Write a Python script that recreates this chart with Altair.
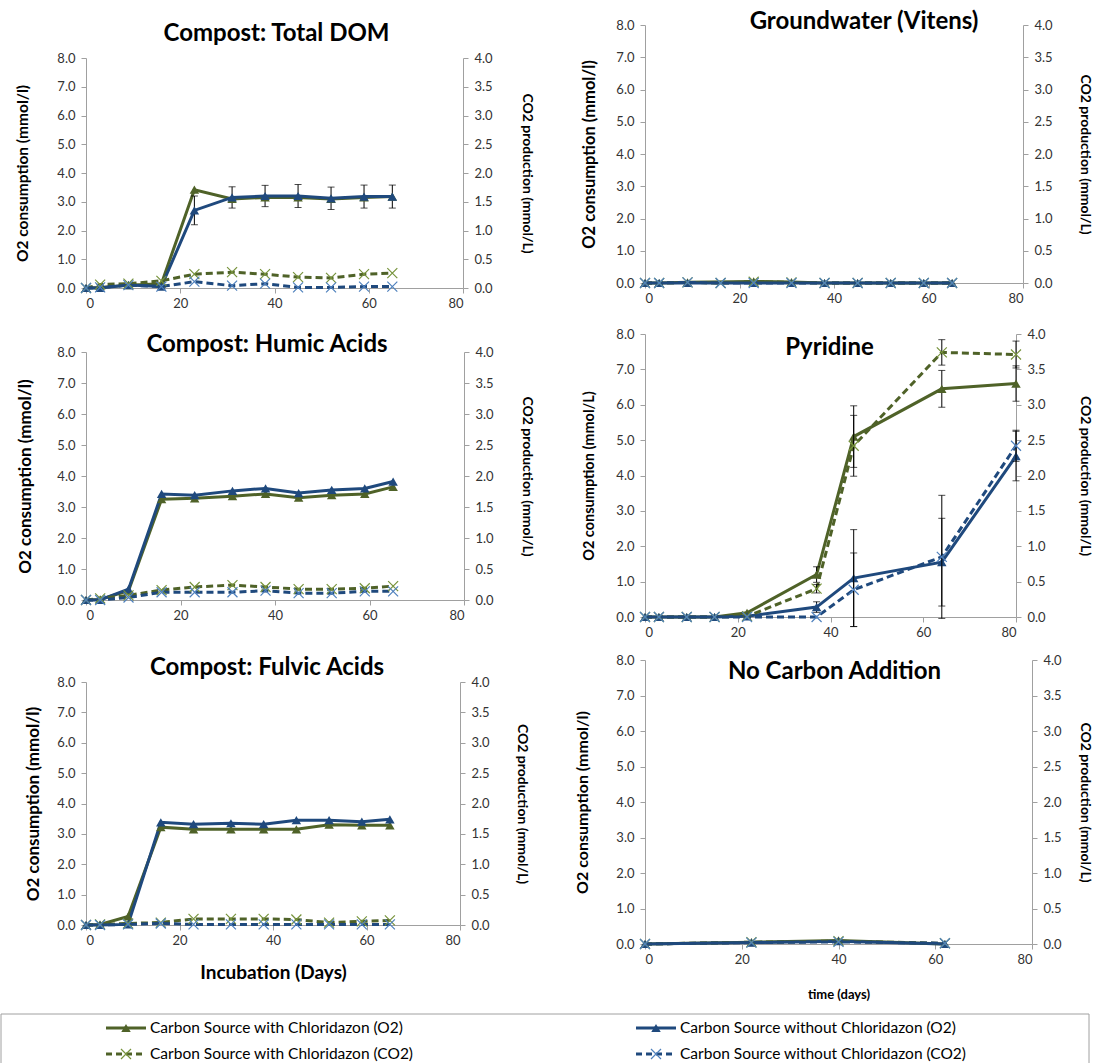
import altair as alt
import pandas as pd

# ---------------- data ----------------
S_W_O2 = "Carbon Source with Chloridazon (O2)"
S_WO_O2 = "Carbon Source without Chloridazon (O2)"
S_W_CO2 = "Carbon Source with Chloridazon (CO2)"
S_WO_CO2 = "Carbon Source without Chloridazon (CO2)"
SERIES = [S_W_O2, S_WO_O2, S_W_CO2, S_WO_CO2]

GREEN = "#4F6228"
BLUE = "#1F497D"
GREEN_X = "#77933C"
BLUE_X = "#4F81BD"

compost_days = [0, 3, 9, 16, 23, 31, 38, 45, 52, 59, 65]

# Compost: Total DOM  (O2 in mmol/l, CO2 in mmol/L on right axis)
dom_w_o2 = [0.0, 0.02, 0.1, 0.15, 3.42, 3.1, 3.15, 3.15, 3.1, 3.15, 3.18]
dom_wo_o2 = [0.0, 0.0, 0.1, 0.05, 2.7, 3.15, 3.2, 3.2, 3.12, 3.18, 3.18]
dom_wo_o2_err = [0, 0, 0, 0, 0.5, 0.37, 0.37, 0.4, 0.39, 0.4, 0.4]
dom_w_co2 = [0.0, 0.06, 0.075, 0.125, 0.24, 0.275, 0.24, 0.19, 0.175, 0.24, 0.26]
dom_wo_co2 = [0.0, 0.01, 0.05, 0.025, 0.11, 0.04, 0.075, 0.01, 0.01, 0.025, 0.025]

# Groundwater (Vitens)
gw_days_o2 = [0, 3, 9, 23, 31, 38, 45, 52, 59, 65]
gw_w_o2 = [0.0, 0.0, 0.02, 0.05, 0.03, 0.0, 0.0, 0.0, 0.0, 0.0]
gw_wo_o2 = [0.0, 0.0, 0.0, 0.0, 0.0, 0.0, 0.0, 0.0, 0.0, 0.0]
gw_days_co2 = [0, 3, 9, 16, 23, 31, 38, 45, 52, 59, 65]
gw_w_co2 = [0.0, 0.0, 0.01, 0.0, 0.02, 0.01, 0.0, 0.0, 0.0, 0.0, 0.0]
gw_wo_co2 = [0.0, 0.0, 0.01, 0.0, 0.0, 0.0, 0.0, 0.0, 0.0, 0.0, 0.0]

# Compost: Humic Acids
hum_w_o2 = [0.0, 0.02, 0.3, 3.25, 3.28, 3.35, 3.42, 3.3, 3.38, 3.42, 3.65]
hum_wo_o2 = [0.0, 0.0, 0.35, 3.42, 3.38, 3.52, 3.6, 3.45, 3.55, 3.6, 3.82]
hum_w_co2 = [0.0, 0.025, 0.075, 0.16, 0.21, 0.24, 0.21, 0.175, 0.175, 0.19, 0.225]
hum_wo_co2 = [0.0, 0.0, 0.04, 0.125, 0.125, 0.125, 0.15, 0.11, 0.11, 0.14, 0.14]

# Pyridine
pyr_days = [0, 3, 9, 15, 22, 37, 45, 64, 80]
pyr_w_o2 = [0.0, 0.0, 0.0, 0.0, 0.12, 1.2, 5.1, 6.45, 6.6]
pyr_w_o2_err = [0, 0, 0, 0, 0, 0.22, 0.87, 0.52, 0.5]
pyr_wo_o2 = [0.0, 0.0, 0.0, 0.0, 0.02, 0.28, 1.1, 1.55, 4.55]
pyr_wo_o2_err = [0, 0, 0, 0, 0, 0.15, 1.37, 1.24, 0.7]
pyr_w_co2 = [0.0, 0.0, 0.0, 0.0, 0.01, 0.4, 2.42, 3.74, 3.71]
pyr_w_co2_err = [0, 0, 0, 0, 0, 0.06, 0.43, 0.18, 0.19]
pyr_wo_co2 = [0.0, 0.0, 0.0, 0.0, 0.0, 0.0, 0.385, 0.85, 2.42]
pyr_wo_co2_err = [0, 0, 0, 0, 0, 0, 0.52, 0.87, 0.22]

# Compost: Fulvic Acids
ful_w_o2 = [0.0, 0.02, 0.28, 3.22, 3.15, 3.15, 3.15, 3.15, 3.3, 3.28, 3.28]
ful_wo_o2 = [0.0, 0.0, 0.02, 3.38, 3.32, 3.35, 3.32, 3.45, 3.45, 3.4, 3.48]
ful_w_co2 = [0.0, 0.01, 0.025, 0.04, 0.1, 0.1, 0.1, 0.09, 0.04, 0.06, 0.075]
ful_wo_co2 = [0.0, 0.0, 0.01, 0.025, 0.01, 0.01, 0.01, 0.01, 0.01, 0.01, 0.01]

# No Carbon Addition
nc_days = [0, 22, 40, 62]
nc_w_o2 = [0.0, 0.05, 0.1, 0.0]
nc_wo_o2 = [0.0, 0.04, 0.08, 0.0]
nc_w_co2 = [0.0, 0.025, 0.04, 0.01]
nc_wo_co2 = [0.0, 0.02, 0.03, 0.01]

# ---------------- styling helpers ----------------
FONT = "Lato"
AX_GREY = "#A0A0A0"
LBL = "#333333"

color_scale = alt.Scale(domain=SERIES, range=[GREEN, BLUE, GREEN, BLUE])
stroke_scale = alt.Scale(domain=SERIES, range=[GREEN, BLUE, GREEN_X, BLUE_X])
X_PATH = "M-1,-1L1,1M1,-1L-1,1"


def mkdf(days, values, series, errs=None):
    if errs is None:
        errs = [0] * len(days)
    df = pd.DataFrame({"day": days, "value": values, "series": series, "err": errs})
    df["lo"] = df["value"] - df["err"]
    df["hi"] = df["value"] + df["err"]
    return df


def x_enc(title, title_size, title_pad):
    kw = dict(values=[0, 20, 40, 60, 80], format="d", labelFontSize=13, labelFont=FONT,
              labelColor=LBL, domainColor=AX_GREY, tickColor=AX_GREY, tickSize=5,
              grid=False, labelPadding=4)
    if title:
        kw.update(title=title, titleFontSize=title_size, titleFont=FONT,
                  titleFontWeight="bold", titleColor="black", titlePadding=title_pad)
    else:
        kw.update(title=None)
    return alt.X("day:Q", scale=alt.Scale(domain=[0, 80], nice=False), axis=alt.Axis(**kw))


def y_axis(orient, title, title_size, title_pad):
    if orient == "left":
        vals = [0, 1, 2, 3, 4, 5, 6, 7, 8]
    else:
        vals = [0, 0.5, 1, 1.5, 2, 2.5, 3, 3.5, 4]
    return alt.Axis(orient=orient, values=vals, format=".1f", title=title,
                    titleFontSize=title_size, titleFont=FONT, titleFontWeight="bold",
                    titleColor="black", titlePadding=title_pad, labelFontSize=13,
                    labelFont=FONT, labelColor=LBL, domainColor=AX_GREY,
                    tickColor=AX_GREY, tickSize=5, grid=False, labelPadding=6)


def group(df, kind, xe, axis):
    dom = [0, 8] if kind == "o2" else [0, 4]
    sc = alt.Scale(domain=dom, nice=False, zero=False)
    y = alt.Y("value:Q", scale=sc, axis=axis)
    base = alt.Chart(df)
    line_kw = dict(strokeWidth=3)
    if kind == "co2":
        line_kw["strokeDash"] = [7, 4]
    layers = [
        base.mark_line(**line_kw).encode(
            x=xe, y=y, color=alt.Color("series:N", scale=color_scale, legend=None))
    ]
    edf = df[df["err"] > 0]
    if len(edf):
        ylo = alt.Y("lo:Q", scale=sc, axis=axis)
        yhi = alt.Y("hi:Q", scale=sc, axis=axis)
        eb = alt.Chart(edf)
        layers.append(eb.mark_rule(color="black", strokeWidth=1).encode(x=xe, y=ylo, y2="hi:Q"))
        layers.append(eb.mark_tick(color="black", orient="horizontal", size=7, thickness=1).encode(x=xe, y=ylo))
        layers.append(eb.mark_tick(color="black", orient="horizontal", size=7, thickness=1).encode(x=xe, y=yhi))
    if kind == "o2":
        layers.append(base.mark_point(shape="triangle-up", filled=True, size=90, opacity=1).encode(
            x=xe, y=y, color=alt.Color("series:N", scale=color_scale, legend=None)))
    else:
        layers.append(base.mark_point(shape=X_PATH, filled=False, size=100, strokeWidth=1.2, opacity=1).encode(
            x=xe, y=y, stroke=alt.Stroke("series:N", scale=stroke_scale, legend=None)))
    return alt.layer(*layers)


def panel(title, o2df, co2df, w, h, t_off, t_dx, ylab, ylab_size, ylab_pad,
          rlab_pad, xtitle=None, xtitle_size=14, xtitle_pad=10):
    xe = x_enc(xtitle, xtitle_size, xtitle_pad)
    left = group(o2df, "o2", xe, y_axis("left", ylab, ylab_size, ylab_pad))
    right = group(co2df, "co2", xe, y_axis("right", "CO2 production (mmol/L)", 14, rlab_pad))
    return alt.layer(left, right).resolve_scale(y="independent").properties(
        width=w, height=h,
        title=alt.TitleParams(text=title, fontSize=24, font=FONT, fontWeight="bold",
                              color="black", anchor="middle", frame="group",
                              offset=t_off, dx=t_dx))


def spacer():
    return alt.Chart(pd.DataFrame({"v": [0]})).mark_point(opacity=0, size=1).encode(
        x=alt.value(0), y=alt.value(0)).properties(width=1, height=1)


# ---------------- panels ----------------
dom = panel("Compost: Total DOM",
            pd.concat([mkdf(compost_days, dom_w_o2, S_W_O2), mkdf(compost_days, dom_wo_o2, S_WO_O2, dom_wo_o2_err)]),
            pd.concat([mkdf(compost_days, dom_w_co2, S_W_CO2), mkdf(compost_days, dom_wo_co2, S_WO_CO2)]),
            377, 230, 6, 2, "O2 consumption  (mmol/l)", 15.5, 26, 27)

hum = panel("Compost: Humic Acids",
            pd.concat([mkdf(compost_days, hum_w_o2, S_W_O2), mkdf(compost_days, hum_wo_o2, S_WO_O2)]),
            pd.concat([mkdf(compost_days, hum_w_co2, S_W_CO2), mkdf(compost_days, hum_wo_co2, S_WO_CO2)]),
            378, 248, -11, -8, "O2 consumption  (mmol/l)", 17, 22, 26)

ful = panel("Compost: Fulvic Acids",
            pd.concat([mkdf(compost_days, ful_w_o2, S_W_O2), mkdf(compost_days, ful_wo_o2, S_WO_O2)]),
            pd.concat([mkdf(compost_days, ful_w_co2, S_W_CO2), mkdf(compost_days, ful_wo_co2, S_WO_CO2)]),
            374, 243, -4, -6, "O2 consumption  (mmol/l)", 17, 14, 25,
            xtitle="Incubation  (Days)", xtitle_size=19, xtitle_pad=16)

gw = panel("Groundwater (Vitens)",
           pd.concat([mkdf(gw_days_o2, gw_w_o2, S_W_O2), mkdf(gw_days_o2, gw_wo_o2, S_WO_O2)]),
           pd.concat([mkdf(gw_days_co2, gw_w_co2, S_W_CO2), mkdf(gw_days_co2, gw_wo_co2, S_WO_CO2)]),
           378, 258, -15, 30, "O2 consumption  (mmol/l)", 16.5, 18, 25)

pyr = panel("Pyridine",
            pd.concat([mkdf(pyr_days, pyr_w_o2, S_W_O2, pyr_w_o2_err), mkdf(pyr_days, pyr_wo_o2, S_WO_O2, pyr_wo_o2_err)]),
            pd.concat([mkdf(pyr_days, pyr_w_co2, S_W_CO2, pyr_w_co2_err), mkdf(pyr_days, pyr_wo_co2, S_WO_CO2, pyr_wo_co2_err)]),
            371, 283, -32, -1, "O2 consumption (mmol/L)", 14.5, 19, 32)

nc = panel("No Carbon Addition",
           pd.concat([mkdf(nc_days, nc_w_o2, S_W_O2), mkdf(nc_days, nc_wo_o2, S_WO_O2)]),
           pd.concat([mkdf(nc_days, nc_w_co2, S_W_CO2), mkdf(nc_days, nc_wo_co2, S_WO_CO2)]),
           387, 284, -30, -4, "O2 consumption  (mmol/l)", 16, 25, 16,
           xtitle="time (days)", xtitle_size=13, xtitle_pad=22)

left_col = alt.concat(
    spacer(),
    alt.concat(dom, alt.concat(hum, ful, columns=1, align="none", spacing=34),
               columns=1, align="none", spacing=23),
    columns=1, align="none", spacing=17)
right_col = alt.concat(
    spacer(),
    alt.concat(gw, alt.concat(pyr, nc, columns=1, align="none", spacing=15),
               columns=1, align="none", spacing=23),
    columns=1, align="none", spacing=5)
grid = alt.concat(left_col, right_col, columns=2, align="none", spacing=40)

# ---------------- legend panel ----------------
LEG_W = 1000
leg = pd.DataFrame({"series": SERIES, "col": [0, 1, 0, 1], "row": [0, 0, 1, 1],
                    "kind": ["o2", "o2", "co2", "co2"]})
leg["cx"] = leg["col"].map({0: 40, 1: 570})
leg["x0"] = leg["cx"] - 20
leg["x1"] = leg["cx"] + 20
leg["tx"] = leg["cx"] + 24
box = pd.DataFrame({"bx0": [-85], "bx1": [1003], "by0": [0], "by1": [1]})
lx = alt.Scale(domain=[0, LEG_W], range=[0, LEG_W])
ly = alt.Scale(domain=[0, 1], range=[14, 40])
by = alt.Scale(domain=[0, 1], range=[0, 50])
lo2 = leg[leg["kind"] == "o2"]
lco2 = leg[leg["kind"] == "co2"]
col_enc = alt.Color("series:N", scale=color_scale, legend=None)
legend_chart = alt.layer(
    alt.Chart(box).mark_rect(fill=None, stroke="#A0A0A0", strokeWidth=1).encode(
        x=alt.X("bx0:Q", scale=lx, axis=None), x2="bx1:Q",
        y=alt.Y("by0:Q", scale=by, axis=None), y2="by1:Q"),
    alt.Chart(lo2).mark_rule(strokeWidth=3).encode(
        x=alt.X("x0:Q", scale=lx, axis=None), x2="x1:Q", y=alt.Y("row:Q", scale=ly, axis=None), color=col_enc),
    alt.Chart(lco2).mark_rule(strokeWidth=3, strokeDash=[6, 4]).encode(
        x=alt.X("x0:Q", scale=lx, axis=None), x2="x1:Q", y=alt.Y("row:Q", scale=ly, axis=None), color=col_enc),
    alt.Chart(lo2).mark_point(shape="triangle-up", filled=True, size=90, opacity=1).encode(
        x=alt.X("cx:Q", scale=lx, axis=None), y=alt.Y("row:Q", scale=ly, axis=None), color=col_enc),
    alt.Chart(lco2).mark_point(shape=X_PATH, filled=False, size=100, strokeWidth=1.2, opacity=1).encode(
        x=alt.X("cx:Q", scale=lx, axis=None), y=alt.Y("row:Q", scale=ly, axis=None),
        stroke=alt.Stroke("series:N", scale=stroke_scale, legend=None)),
    alt.Chart(leg).mark_text(align="left", baseline="middle", fontSize=15.5, font=FONT, color="black").encode(
        x=alt.X("tx:Q", scale=lx, axis=None), y=alt.Y("row:Q", scale=ly, axis=None), text="series:N"),
).resolve_scale(y="independent").properties(width=LEG_W, height=50)

chart = alt.vconcat(grid, legend_chart, spacing=12).properties(
    padding={"left": 0, "top": 3, "right": 6, "bottom": 0},
    background="white",
).configure_view(stroke=None)

chart.save("out.html", embed_options={"renderer": "svg", "actions": False})
